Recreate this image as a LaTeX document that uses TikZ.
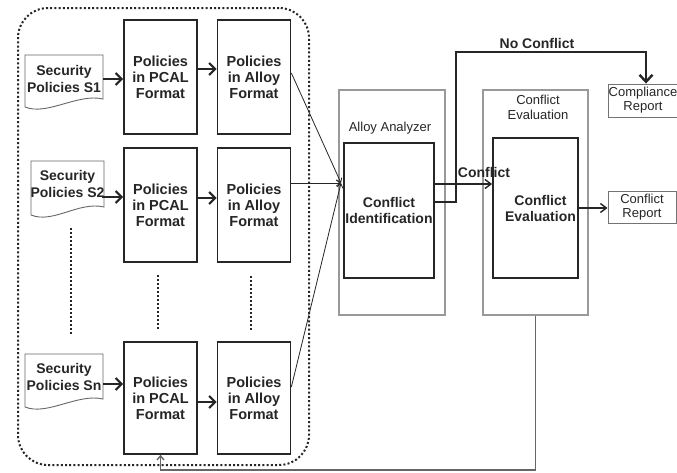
\documentclass[tikz,border=0pt]{standalone}
\usepackage{fontspec}
\setmainfont{Liberation Sans}
\usetikzlibrary{arrows.meta,calc}
\begin{document}
\begin{tikzpicture}[x=1pt,y=-1pt,
  every node/.style={text=black!85},
  pbox/.style={draw=black!85, line width=1.7pt, minimum width=73pt, inner sep=0pt, align=center,
    font=\bfseries\fontsize{14.5}{16}\selectfont},
  doctext/.style={inner sep=0pt, minimum height=30pt, align=center, font=\bfseries\fontsize{14}{16.5}\selectfont},
  docline/.style={draw=black!60, line width=0.9pt},
  grp/.style={draw=black!85, line width=2pt, dash pattern=on 2pt off 2.2pt, rounded corners=30pt,
    minimum width=291pt, minimum height=457pt, inner sep=0pt},
  vdots/.style={draw=black!85, line width=2.4pt, dash pattern=on 2pt off 2pt},
  thickarrow/.style={draw=black!85, line width=2.2pt, -{Straight Barb[length=6pt,width=12pt]}},
  thinarrow/.style={draw=black!85, line width=0.8pt, -{Straight Barb[length=4pt,width=6pt]}},
  medarrow/.style={draw=black!85, line width=1.4pt, -{Straight Barb[length=6pt,width=9pt]}},
  cont/.style={draw=black!40, line width=1.2pt, inner sep=0pt},
  ibox/.style={draw=black!85, line width=1.8pt, inner sep=0pt, align=center,
    font=\bfseries\fontsize{14}{16}\selectfont},
  lbl/.style={inner sep=0pt, align=center, font=\fontsize{13}{15}\selectfont},
  rep/.style={draw=black!55, line width=0.9pt, inner sep=0pt, align=center, font=\fontsize{13}{14}\selectfont},
  blbl/.style={inner sep=0pt, font=\bfseries\fontsize{14}{16}\selectfont},
  fb/.style={draw=black!60, line width=1.4pt, -{Straight Barb[length=4pt,width=7pt]}}
]
\useasboundingbox (0,0) rectangle (677,472);
\fill[white] (0,0) rectangle (677,472);

% group
\node[grp] (grp) at (163.5,236.5) {};

% documents
\newcommand{\mydocshape}[4]{\path[docline] (#1,#2) -- (#3,#2) -- (#3,#4-11)
   .. controls (#3-25,#4-17) and (#1+22,#4+6) .. (#1,#4-3) -- cycle;}
\mydocshape{25}{55}{103}{110}
\mydocshape{31}{161}{104}{218}
\mydocshape{25}{354}{103}{410}
\node[doctext, minimum width=78pt] (s1) at (64,79) {Security\\Policies S1};
\node[doctext, minimum width=73pt] (s2) at (67.5,184) {Security\\Policies S2};
\node[doctext, minimum width=78pt] (sn) at (64,377) {Security\\Policies Sn};

% PCAL and Alloy boxes
\node[pbox, minimum height=114pt] (p1) at (160.5,77) {Policies\\in PCAL\\Format};
\node[pbox, minimum height=114pt] (p2) at (160.5,205) {Policies\\in PCAL\\Format};
\node[pbox, minimum height=112pt] (p3) at (160.5,398) {Policies\\in PCAL\\Format};
\node[pbox, minimum height=114pt] (a1) at (254,77) {Policies\\in Alloy\\Format};
\node[pbox, minimum height=114pt] (a2) at (254,205) {Policies\\in Alloy\\Format};
\node[pbox, minimum height=112pt] (a3) at (254,398) {Policies\\in Alloy\\Format};

% vertical dots
\draw[vdots] (71,228) -- (71,334);
\draw[vdots] (158,275) -- (158,329);
\draw[vdots] (251,276) -- (251,330);

% row arrows
\draw[thickarrow] (s1.east) -- (p1.west |- s1.east);
\draw[thickarrow] (p1.east |- 0,69) -- (a1.west |- 0,69);
\draw[thickarrow] ([xshift=-3pt]s2.east |- 0,197) -- (p2.west |- 0,197);
\draw[thickarrow] (p2.east |- 0,198) -- (a2.west |- 0,198);
\draw[thickarrow] (sn.east |- 0,384) -- (p3.west |- 0,384);
\draw[thickarrow] (p3.east |- 0,402) -- (a3.west |- 0,402);

% Alloy analyzer
\node[cont, minimum width=106pt, minimum height=225pt] (aa) at (392,202.5) {};
\node[lbl] (aalbl) at (390,128) {Alloy Analyzer};
\node[ibox, minimum width=90pt, minimum height=135pt] (ci) at (389,210.5) {Conflict\\Identification};

% Conflict evaluation
\node[cont, minimum width=105pt, minimum height=225pt] (cec) at (535.5,202.5) {};
\node[lbl] (celbl) at (538,107.5) {Conflict\\Evaluation};
\node[ibox, minimum width=85pt, minimum height=140pt] (ce) at (535.5,208) {\hspace*{10pt}Conflict\\\hspace*{10pt}Evaluation};

% reports
\node[rep, minimum width=70pt, minimum height=33pt] (comp) at (643,100.5) {Compliance\\Report};
\node[rep, minimum width=68pt, minimum height=32pt] (cr) at (642,207) {Conflict\\Report};

% converging arrows
\coordinate (conv) at (341,183);
\draw[thinarrow] (a1.east |- 0,73) -- (conv);
\draw[thinarrow] (a2.east |- 0,183) -- (conv);
\draw[thinarrow] (a3.east |- 0,387) -- (conv);

% No conflict
\coordinate (nc) at (456,52);
\draw[line width=2.4pt, draw=black!85, -{Straight Barb[length=7pt,width=13pt]}]
  (ci.east |- 0,202) -| (nc) -| ([xshift=3pt]comp.north);
\node[blbl] (nclbl) at (537,43) {No Conflict};

% conflict
\draw[medarrow] (ci.east |- 0,184) -- (ce.west |- 0,184);
\node[blbl] (clbl) at (484,172) {Conflict};

% to conflict report
\draw[medarrow] (ce.east |- 0,208) -- (cr.west |- 0,208);

% feedback
\coordinate (fbc) at (535.5,470);
\draw[fb] (cec.south) -- (fbc) -| (p3.south);
\end{tikzpicture}
\end{document}
